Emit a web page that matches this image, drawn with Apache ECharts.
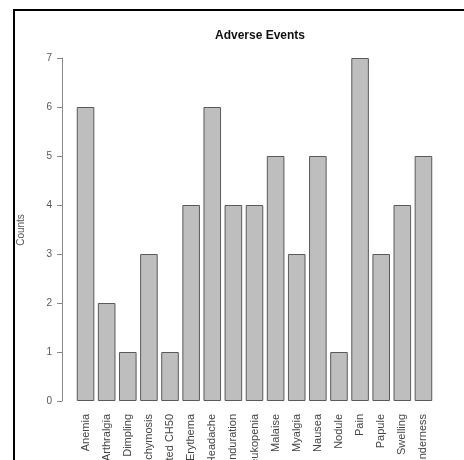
<!DOCTYPE html>
<html>
<head>
<meta charset="utf-8">
<script src="https://cdn.jsdelivr.net/npm/echarts@6/dist/echarts.min.js"></script>
<style>
  html, body { margin: 0; padding: 0; background: #ffffff; }
  #chart { width: 464px; height: 460px; }
</style>
</head>
<body>
<div id="chart"></div>
<script>
// Adverse event names (alphabetical) and how many times each was reported
const events = [
  'Anemia', 'Arthralgia', 'Dimpling', 'Ecchymosis', 'Elevated CH50',
  'Erythema', 'Headache', 'Induration', 'Leukopenia', 'Malaise',
  'Myalgia', 'Nausea', 'Nodule', 'Pain', 'Papule', 'Swelling', 'Tenderness'
];
const counts = [6, 2, 1, 3, 1, 4, 6, 4, 4, 5, 3, 5, 1, 7, 3, 4, 5];
const countTicks = [0, 1, 2, 3, 4, 5, 6, 7];

const chart = echarts.init(document.getElementById('chart'), null, { renderer: 'canvas' });

chart.setOption({
  backgroundColor: '#ffffff',
  animation: false,
  title: {
    text: 'Adverse Events',
    left: 255,
    textAlign: 'center',
    top: 25,
    textStyle: { fontFamily: 'Liberation Sans', fontSize: 12, fontWeight: 'bold', color: '#111' }
  },
  graphic: [
    {
      type: 'rect',
      shape: { x: 14, y: 10, width: 520, height: 520 },
      style: { fill: 'none', stroke: '#000', lineWidth: 2 },
      silent: true
    },
    {
      // y-axis title
      type: 'text',
      x: 21,
      y: 230,
      rotation: Math.PI / 2,
      style: {
        text: 'Counts',
        fontFamily: 'Liberation Sans',
        fontSize: 10,
        fill: '#555',
        align: 'center',
        verticalAlign: 'middle'
      },
      silent: true
    }
  ],
  grid: {
    left: 75, right: 30, top: 58, bottom: 59,
    containLabel: false,
    outerBoundsMode: 'none'
  },
  xAxis: {
    type: 'category',
    data: events,
    axisLine: { show: false },
    axisTick: { show: false },
    axisLabel: {
      rotate: 90,
      interval: 0,
      margin: 13,
      fontFamily: 'Liberation Sans',
      fontSize: 11,
      color: '#444'
    }
  },
  yAxis: {
    type: 'value',
    min: countTicks[0],
    max: countTicks[countTicks.length - 1],
    interval: 1,
    offset: 13,
    axisLine: { show: true, lineStyle: { color: '#888', width: 1 } },
    axisTick: { show: true, length: 5, lineStyle: { color: '#888' } },
    axisLabel: {
      margin: 10,
      fontFamily: 'Liberation Sans',
      fontSize: 10,
      color: '#555'
    },
    splitLine: { show: false }
  },
  series: [
    {
      type: 'bar',
      data: counts,
      barCategoryGap: '16.7%',
      itemStyle: { color: '#bebebe', borderColor: '#5a5a5a', borderWidth: 1 }
    }
  ]
});
</script>
</body>
</html>
